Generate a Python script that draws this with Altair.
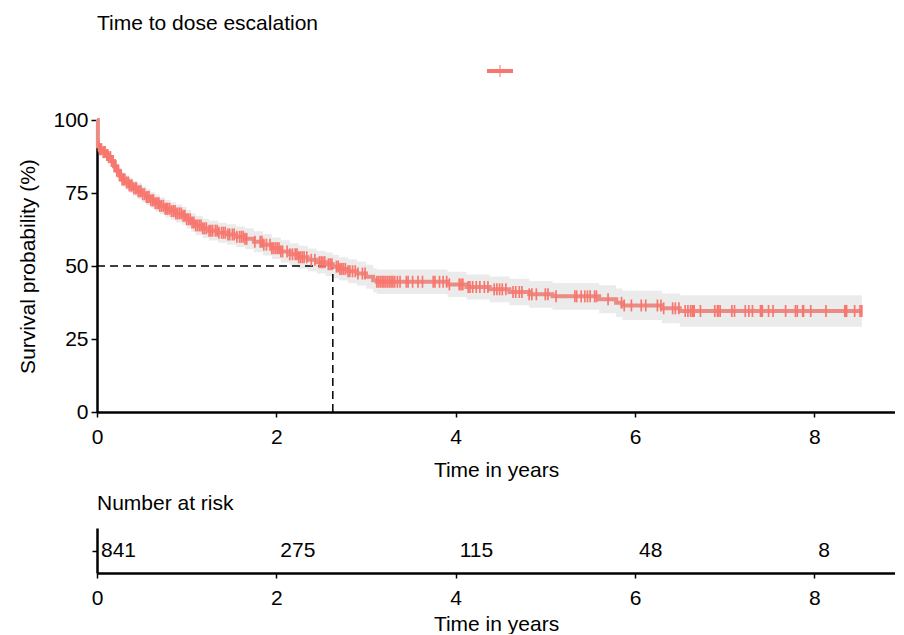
import altair as alt
import pandas as pd
import numpy as np

# ---- data ----
km_time = [0.00, 0.01, 0.03, 0.06, 0.10, 0.13, 0.16, 0.19, 0.22, 0.25, 0.28, 0.32, 0.36, 0.40,
           0.45, 0.50, 0.55, 0.60, 0.65, 0.70, 0.76, 0.82, 0.88, 0.95, 1.00, 1.05, 1.10, 1.18,
           1.25, 1.35, 1.45, 1.55, 1.65, 1.75, 1.85, 1.95, 2.05, 2.15, 2.25, 2.35, 2.45, 2.55,
           2.63, 2.70, 2.80, 2.90, 3.00, 3.08, 3.12, 3.91, 4.12, 4.38, 4.60, 4.82, 5.08, 5.60,
           5.79, 5.86, 6.30, 6.50, 8.53]
km_surv = [100.0, 91.0, 90.0, 89.0, 88.0, 87.3, 86.0, 84.2, 82.6, 81.0, 79.6, 78.6, 77.6, 76.6,
           75.6, 74.6, 73.6, 72.5, 71.5, 70.6, 69.6, 68.8, 68.0, 67.2, 66.0, 64.9, 63.9, 62.9,
           62.1, 61.4, 60.8, 60.0, 59.3, 58.3, 57.3, 56.1, 55.0, 54.0, 53.0, 52.1, 51.3, 50.6,
           49.8, 49.0, 48.2, 47.4, 46.3, 45.1, 44.6, 43.7, 42.8, 42.0, 41.1, 40.3, 39.6, 38.6,
           37.4, 36.5, 35.5, 34.6, 34.6]
ci_half = [0.0, 1.5, 1.6, 1.7, 1.8, 1.9, 2.0, 2.1, 2.2, 2.3, 2.4, 2.5, 2.5, 2.6,
           2.7, 2.7, 2.8, 2.8, 2.9, 2.9, 3.0, 3.0, 3.1, 3.1, 3.2, 3.2, 3.3, 3.3,
           3.4, 3.4, 3.5, 3.5, 3.6, 3.6, 3.7, 3.7, 3.8, 3.8, 3.9, 3.9, 3.9, 4.0,
           4.0, 4.0, 4.1, 4.1, 4.1, 4.1, 4.2, 4.3, 4.3, 4.4, 4.5, 4.6, 4.6, 4.8,
           4.9, 5.0, 5.1, 5.4, 5.4]
censor_time = [
    0.02, 0.03, 0.04, 0.05, 0.07, 0.08, 0.09, 0.11, 0.12, 0.13, 0.15, 0.16, 0.18, 0.19, 0.21,
    0.22, 0.24, 0.25, 0.27, 0.28, 0.30, 0.31, 0.33, 0.35, 0.36, 0.38, 0.39, 0.41, 0.43, 0.44,
    0.46, 0.48, 0.49, 0.51, 0.53, 0.55, 0.56, 0.58, 0.60, 0.62, 0.63, 0.65, 0.67, 0.69, 0.70,
    0.72, 0.74, 0.76, 0.78, 0.79, 0.81, 0.83, 0.85, 0.87, 0.88, 0.90, 0.92, 0.94, 0.96, 0.98,
    1.00, 1.02, 1.04, 1.06, 1.08, 1.10, 1.12, 1.14, 1.16, 1.18, 1.20, 1.22, 1.25, 1.27, 1.29,
    1.32, 1.34, 1.36, 1.39, 1.41, 1.43, 1.46, 1.48, 1.51, 1.53, 1.56, 1.59, 1.61, 1.63, 1.65,
    1.67, 1.76, 1.82, 1.84, 1.86, 1.89, 1.93, 1.95, 1.97, 1.99, 2.01, 2.03, 2.05, 2.07, 2.12,
    2.15, 2.18, 2.21, 2.23, 2.25, 2.27, 2.29, 2.31, 2.34, 2.39, 2.43, 2.48, 2.50, 2.52, 2.54,
    2.58, 2.60, 2.62, 2.67, 2.69, 2.71, 2.73, 2.75, 2.77, 2.80, 2.82, 2.85, 2.88, 2.91, 2.96,
    2.99, 3.12, 3.14, 3.16, 3.18, 3.20, 3.22, 3.24, 3.26, 3.28, 3.30, 3.32, 3.35, 3.38, 3.45,
    3.47, 3.52, 3.58, 3.63, 3.75, 3.77, 3.82, 3.86, 3.90, 3.93, 4.04, 4.06, 4.08, 4.14, 4.16,
    4.19, 4.23, 4.27, 4.32, 4.36, 4.43, 4.46, 4.49, 4.52, 4.56, 4.64, 4.67, 4.71, 4.74, 4.82,
    4.85, 4.90, 5.00, 5.03, 5.12, 5.33, 5.35, 5.40, 5.44, 5.47, 5.50, 5.55, 5.57, 5.70, 5.85,
    5.88, 5.96, 6.07, 6.12, 6.25, 6.29, 6.32, 6.42, 6.45, 6.49, 6.56, 6.59, 6.62, 6.64, 6.65,
    6.66, 6.73, 6.89, 6.92, 6.93, 6.95, 7.08, 7.11, 7.23, 7.27, 7.31, 7.40, 7.41, 7.42, 7.49,
    7.54, 7.68, 7.79, 7.81, 7.87, 7.88, 7.96, 8.13, 8.34, 8.35, 8.36, 8.45, 8.51, 8.53]
median_time = [2.63]
median_surv = [50]
risk_time = [0, 2, 4, 6, 8]
risk_n = [841, 275, 115, 48, 8]
x_ticks = [0, 2, 4, 6, 8]
y_ticks = [0, 25, 50, 75, 100]

# ---- tables ----
curve = pd.DataFrame({"t": km_time, "s": km_surv})
curve["lo"] = curve["s"] - np.array(ci_half)
curve["hi"] = curve["s"] + np.array(ci_half)
idx = np.searchsorted(np.array(km_time), np.array(censor_time), side="right") - 1
cens = pd.DataFrame({"t": censor_time, "s": np.array(km_surv)[idx], "strata": "All"})
med = pd.DataFrame({"x0": [0], "x1": median_time, "y0": [0], "y1": median_surv})
risk = pd.DataFrame({"t": risk_time, "n": risk_n, "strata": "All"})

FONT = "Liberation Sans"
FS = 21
W = 798
xscale = alt.Scale(domain=[0, 8.9], nice=False, zero=False)
yscale = alt.Scale(domain=[0, 100], nice=False)

def xaxis(lpad, tpad):
    return alt.Axis(values=x_ticks, format="d", title="Time in years", grid=False,
                    domainColor="black", domainWidth=2.5, tickColor="black", tickWidth=1.5,
                    tickSize=5, labelFontSize=FS, titleFontSize=FS, labelFont=FONT,
                    titleFont=FONT, titleFontWeight="normal", labelColor="black",
                    titleColor="black", labelPadding=lpad, titlePadding=tpad,
                    labelFlush=False)

yaxis = alt.Axis(values=y_ticks, title="Survival probability (%)", grid=False,
                 domainColor="black", domainWidth=2.5, tickColor="black", tickWidth=1.5,
                 tickSize=6, labelFontSize=FS, titleFontSize=FS, labelFont=FONT,
                 titleFont=FONT, titleFontWeight="normal", labelColor="black",
                 titleColor="black", labelPadding=3, titlePadding=14, labelFlush=False)

VBAR = "M-0.14,-1H0.14V1H-0.14Z"
CROSS = "M-1,-0.15H1V0.15H-1Z M-0.04,-0.46H0.04V0.46H-0.04Z"

band = alt.Chart(curve).mark_area(interpolate="step-after", color="#EBEBEB").encode(
    x=alt.X("t:Q", scale=xscale, axis=xaxis(9, 12)),
    y=alt.Y("lo:Q", scale=yscale, axis=yaxis),
    y2="hi:Q",
)
hline = alt.Chart(med).mark_rule(color="black", strokeWidth=1.5, strokeDash=[8, 5]).encode(
    x="x0:Q", x2="x1:Q", y="y1:Q")
vline = alt.Chart(med).mark_rule(color="black", strokeWidth=1.5, strokeDash=[8, 5]).encode(
    x="x1:Q", y="y0:Q", y2="y1:Q")
line = alt.Chart(curve).mark_line(interpolate="step-after", color="#EC8B84", strokeWidth=4).encode(
    x="t:Q", y="s:Q")
marks = alt.Chart(cens).mark_point(filled=True, shape=VBAR, size=144, opacity=1).encode(
    x="t:Q", y="s:Q",
    color=alt.Color("strata:N", scale=alt.Scale(range=["#F8766D"]),
                    legend=alt.Legend(title=None, orient="none", legendX=390, legendY=-62,
                                      symbolType=CROSS, symbolSize=676, symbolStrokeWidth=0,
                                      symbolOpacity=1, labelExpr="''", padding=0)),
)

main = alt.layer(band, hline, vline, line, marks).properties(
    width=W, height=292,
    title=alt.TitleParams("Time to dose escalation", anchor="start", frame="group",
                          font=FONT, fontSize=FS, fontWeight="normal", color="black",
                          offset=75),
)

risk_chart = alt.Chart(risk).mark_text(align="left", dx=4, font=FONT, fontSize=FS,
                                       color="black").encode(
    x=alt.X("t:Q", scale=xscale, axis=xaxis(9, 5)),
    y=alt.Y("strata:N", axis=alt.Axis(title=None, labels=False, ticks=True, tickSize=5,
                                      tickColor="black", tickWidth=1.5, domainColor="black",
                                      domainWidth=2.5, grid=False)),
    text="n:Q",
).properties(
    width=W, height=45,
    title=alt.TitleParams("Number at risk", anchor="start", frame="group", font=FONT,
                          fontSize=FS, fontWeight="normal", color="black", offset=14),
)

chart = alt.vconcat(main, risk_chart, spacing=13).properties(
    padding={"left": 9, "top": 5, "right": 0, "bottom": 0}
).configure_view(stroke=None)

chart.save("out.html", embed_options={"renderer": "svg", "actions": False})
